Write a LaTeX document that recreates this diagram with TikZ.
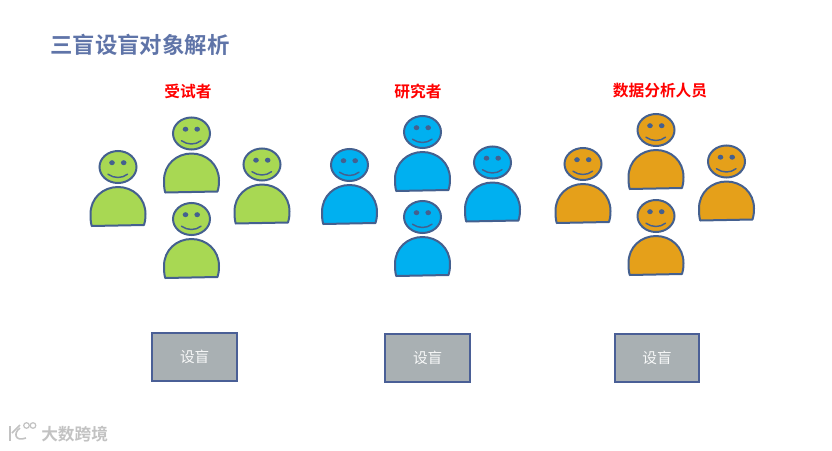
\documentclass[tikz,border=0pt]{standalone}
\usepackage{fontspec}
\setmainfont{Liberation Sans}
\newfontfamily\cjk{Noto Sans CJK SC}
\newfontfamily\cjkb{Noto Sans CJK SC Bold}
\definecolor{edgeblue}{HTML}{44608F}
\definecolor{gr}{HTML}{A8D853}
\definecolor{bl}{HTML}{00B0F0}
\definecolor{org}{HTML}{E5A01A}
\definecolor{titlec}{HTML}{5F74A8}
\definecolor{boxc}{HTML}{A9B0B3}
\definecolor{boxe}{HTML}{4A5F96}
\tikzset{
  x=0.75pt,y=-0.75pt,
  person/.pic={
    \draw[edgeblue,line width=1.5pt,fill=\tikzpictextoptions] (0,0) ellipse [x radius=18.5,y radius=16];
    \fill[edgeblue] (-6,-4.3) ellipse [x radius=2.8,y radius=2.5];
    \fill[edgeblue] (5.7,-4.3) ellipse [x radius=2.8,y radius=2.5];
    \draw[edgeblue,line width=1.1pt,line cap=round] (-10,7.2) .. controls (-4,11.6) and (4,11.6) .. (9.5,7.2);
    \draw[edgeblue,line width=1.5pt,fill=\tikzpictextoptions,line join=round]
      (-26.3,59) .. controls (-27.4,55) and (-27.5,51) .. (-27.5,47)
      .. controls (-27.5,31) and (-15,20) .. (0,20)
      .. controls (15,20) and (27.5,31) .. (27.5,47)
      .. controls (27.5,51) and (27.2,54) .. (26,58) -- cycle;
  },
  titletext/.style={font=\cjkb\fontsize{16.8}{18}\selectfont,text=titlec,inner sep=0pt},
  grouplabel/.style={font=\cjkb\fontsize{11.8}{13}\selectfont,text=red,inner sep=0pt},
  blindbox/.style={draw=boxe,fill=boxc,line width=1.5pt,minimum width=63.5pt,minimum height=36.5pt,inner sep=0pt,font=\cjk\fontsize{11}{13}\selectfont,text=white!92!boxc},
  wm/.style={font=\cjkb\fontsize{12.5}{14}\selectfont,text=black!24,inner sep=0pt},
}
\begin{document}
\begin{tikzpicture}
\useasboundingbox (0,0) rectangle (832,450);
\node[titletext,anchor=west] (title) at (50,45) {三盲设盲对象解析};
\node[grouplabel] (g1) at (188,91) {受试者};
\node[grouplabel] (g2) at (418,91) {研究者};
\node[grouplabel] (g3) at (660,91) {数据分析人员};
\foreach \px/\py in {118/167,191.5/133.5,262/164.5,191.5/219}
  \pic[pic text options=gr] at (\px,\py) {person};
\foreach \px/\py in {349.5/165,422.5/132,492.5/162.5,422.5/217}
  \pic[pic text options=bl] at (\px,\py) {person};
\foreach \px/\py in {583/164,656/130,726.5/161.5,656/216}
  \pic[pic text options=org] at (\px,\py) {person};
\node[blindbox] (b1) at (194.7,357) {设盲};
\node[blindbox] (b2) at (427.7,358) {设盲};
\node[blindbox] (b3) at (657,358) {设盲};
\node[wm,anchor=west] (wmark) at (41,434) {大数跨境};
\draw[black!24,line width=1.2pt] (10,426) -- (10,441);
\draw[black!24,line width=1.2pt] (12,433) -- (20,425);
\draw[black!24,line width=1.2pt] (20,428) .. controls (13,433) and (15,442) .. (26,438);
\draw[black!24,line width=0.9pt] (26.5,425.5) circle (2.8);
\draw[black!24,line width=0.9pt] (33,425.5) circle (2.8);
\end{tikzpicture}
\end{document}
